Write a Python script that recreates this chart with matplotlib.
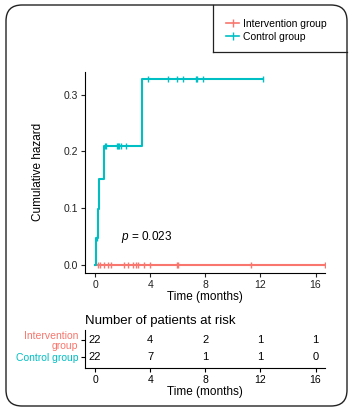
import matplotlib.pyplot as plt
from matplotlib.lines import Line2D
from matplotlib.patches import FancyBboxPatch

plt.rcParams['font.family'] = ['Liberation Sans', 'DejaVu Sans']
plt.rcParams['mathtext.fontset'] = 'custom'
plt.rcParams['mathtext.it'] = 'Liberation Sans:italic'
plt.rcParams['mathtext.rm'] = 'Liberation Sans'

# Colours (ggplot defaults)
col_int = '#F8766D'
col_ctl = '#00BFC4'

# Control group cumulative hazard steps
ctl_times = [0.0, 0.07, 0.24, 0.29, 0.65, 3.4, 12.2]
ctl_hazard = [0.0, 0.048, 0.099, 0.152, 0.209, 0.327, 0.327]
ctl_cens_t = [0.12, 0.73, 0.8, 1.6, 1.67, 1.75, 1.9, 2.25,
              3.85, 5.3, 5.96, 6.4, 7.35, 7.4, 7.8, 12.2]

# Intervention group: no events
int_times = [0.0, 16.7]
int_hazard = [0.0, 0.0]
int_cens_t = [0.2, 0.36, 0.68, 0.93, 1.16, 2.13, 2.42, 2.74, 2.98, 3.1,
              3.58, 3.95, 5.97, 6.03, 11.3, 16.7]

# Number at risk table
risk_times = [0, 4, 8, 12, 16]
risk_int = [22, 4, 2, 1, 1]
risk_ctl = [22, 7, 1, 1, 0]
groups = ['Intervention\ngroup', 'Control group']


def hazard_at(times, hazard, t):
    h = hazard[0]
    for ti, hi in zip(times, hazard):
        if ti <= t:
            h = hi
    return h


fig = plt.figure(figsize=(3.5, 4.15), dpi=100)

# rounded outer frame
frame = FancyBboxPatch((0.06, 0.09), 3.41, 4.01, boxstyle='round,pad=0,rounding_size=0.16',
                       transform=fig.dpi_scale_trans, fill=False, lw=1.0, ec='#222222')
fig.patches.append(frame)
# legend box lines
fig.add_artist(Line2D([2.13, 2.13], [3.63, 4.10], transform=fig.dpi_scale_trans, color='#222222', lw=0.9))
fig.add_artist(Line2D([2.13, 3.47], [3.63, 3.63], transform=fig.dpi_scale_trans, color='#222222', lw=0.9))

xlim = (-0.73, 16.7)

ax = fig.add_axes([0.243, 0.342, 0.686, 0.485])
ax.step(int_times, int_hazard, where='post', color=col_int, lw=1.5)
ax.plot(int_cens_t, [hazard_at(int_times, int_hazard, t) for t in int_cens_t],
        ls='none', marker='|', ms=5, mew=1.0, color=col_int)
ax.step(ctl_times, ctl_hazard, where='post', color=col_ctl, lw=1.5)
ax.plot(ctl_cens_t, [hazard_at(ctl_times, ctl_hazard, t) for t in ctl_cens_t],
        ls='none', marker='|', ms=5, mew=1.0, color=col_ctl)

ax.set_xlim(*xlim)
ax.set_ylim(-0.014, 0.34)
ax.set_xticks(risk_times)
ax.set_yticks([0.0, 0.1, 0.2, 0.3])
ax.set_yticklabels(['0.0', '0.1', '0.2', '0.3'])
for s in ['top', 'right']:
    ax.spines[s].set_visible(False)
ax.tick_params(labelsize=7.5, length=3, width=0.8, pad=2, colors='#222222')
ax.set_xlabel('Time (months)', fontsize=8.5, labelpad=1)
ax.set_ylabel('Cumulative hazard', fontsize=8.5, labelpad=14)
ax.text(1.85, 0.05, r'$p$ = 0.023', fontsize=8.5, va='center', ha='left')

handles = [Line2D([], [], color=col_int, marker='|', ms=6, lw=1.2),
           Line2D([], [], color=col_ctl, marker='|', ms=6, lw=1.2)]
fig.legend(handles, ['Intervention group', 'Control group'], loc='upper left',
           bbox_to_anchor=(0.62, 0.978), frameon=False, fontsize=7.5,
           handlelength=1.2, handletextpad=0.4, labelspacing=0.3, numpoints=1)

# risk table
rax = fig.add_axes([0.243, 0.113, 0.686, 0.092])
for i, row in enumerate([risk_int, risk_ctl]):
    y = 2 - i
    for t, n in zip(risk_times, row):
        rax.text(t, y, str(n), ha='center', va='center', fontsize=8)
rax.set_xlim(*xlim)
rax.set_ylim(0.353, 2.588)
rax.set_xticks(risk_times)
rax.set_yticks([2, 1])
rax.set_yticklabels(groups, linespacing=0.95)
for lab, c in zip(rax.get_yticklabels(), [col_int, col_ctl]):
    lab.set_color(c)
for s in ['top', 'right']:
    rax.spines[s].set_visible(False)
rax.tick_params(labelsize=7.5, length=3, width=0.8, pad=2)
rax.set_xlabel('Time (months)', fontsize=8.5, labelpad=1)
rax.set_title('Number of patients at risk', fontsize=9.5, loc='left', pad=4)

fig.savefig('out.png', dpi=100)
